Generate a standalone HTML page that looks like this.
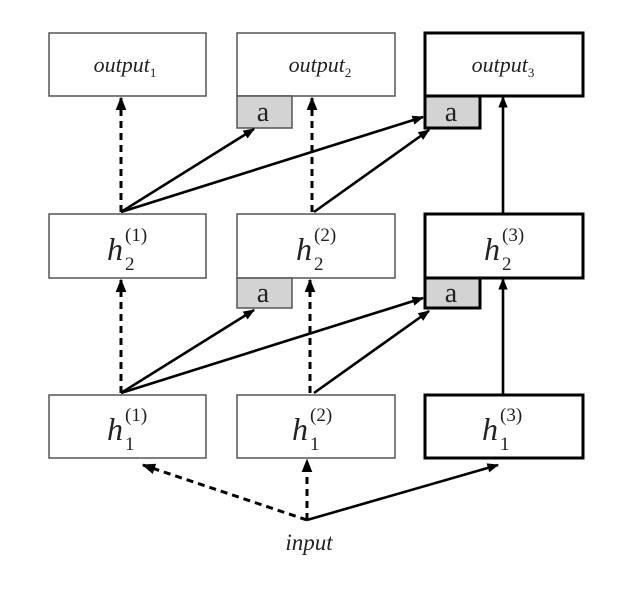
<!DOCTYPE html>
<html><head><meta charset="utf-8"><style>html,body{margin:0;padding:0;background:#fff}svg{display:block}</style></head>
<body>
<svg width="640" height="591" viewBox="0 0 640 591" xmlns="http://www.w3.org/2000/svg" font-family="Liberation Serif, serif">
<defs>
<marker id="ah" viewBox="0 0 10 10" refX="9" refY="5" markerWidth="4.5" markerHeight="4.5" orient="auto" markerUnits="strokeWidth">
<path d="M0,1 L10,5 L0,9 z" fill="#000"/></marker>
</defs>
<g fill="#fff" stroke="#555" stroke-width="1.5">
<rect x="49" y="33" width="157" height="63"/>
<rect x="237" y="33" width="158" height="63"/>
<rect x="49" y="214" width="157" height="64"/>
<rect x="237" y="214" width="158" height="64"/>
<rect x="49" y="395" width="157" height="63"/>
<rect x="237" y="395" width="158" height="63"/>
</g>
<g fill="#fff" stroke="#000" stroke-width="3">
<rect x="425" y="33" width="158" height="63"/>
<rect x="425" y="214" width="158" height="64"/>
<rect x="425" y="395" width="158" height="63"/>
</g>
<g fill="#d3d3d3" stroke="#555" stroke-width="1.5">
<rect x="237" y="96" width="55" height="32"/>
<rect x="237" y="278" width="55" height="30"/>
</g>
<g fill="#d3d3d3" stroke="#000" stroke-width="3">
<rect x="425" y="96" width="55" height="32"/>
<rect x="425" y="278" width="55" height="30"/>
</g>
<g font-size="28" text-anchor="middle" fill="#222">
<text x="263" y="121">a</text><text x="451" y="121">a</text>
<text x="263" y="302">a</text><text x="451" y="302">a</text>
</g>
<g font-size="22" font-style="italic" fill="#222" text-anchor="middle">
<text x="125" y="72">output<tspan font-size="13" font-style="normal" dy="5">1</tspan></text>
<text x="320" y="72">output<tspan font-size="13" font-style="normal" dy="5">2</tspan></text>
<text x="503" y="72">output<tspan font-size="13" font-style="normal" dy="5">3</tspan></text>
</g>
<g font-size="32" font-style="italic" fill="#222">
<text x="107" y="260">h</text><text x="125" y="270" font-size="19" font-style="normal">2</text><text x="125" y="241" font-size="19" font-style="normal">(1)</text>
<text x="296" y="260">h</text><text x="314" y="270" font-size="19" font-style="normal">2</text><text x="314" y="241" font-size="19" font-style="normal">(2)</text>
<text x="484" y="260">h</text><text x="502" y="270" font-size="19" font-style="normal">2</text><text x="502" y="241" font-size="19" font-style="normal">(3)</text>
<text x="107" y="440">h</text><text x="125" y="450" font-size="19" font-style="normal">1</text><text x="125" y="421" font-size="19" font-style="normal">(1)</text>
<text x="292" y="440">h</text><text x="310" y="450" font-size="19" font-style="normal">1</text><text x="310" y="421" font-size="19" font-style="normal">(2)</text>
<text x="482" y="440">h</text><text x="500" y="450" font-size="19" font-style="normal">1</text><text x="500" y="421" font-size="19" font-style="normal">(3)</text>
</g>
<text x="309" y="550" font-size="23" font-style="italic" text-anchor="middle" fill="#222">input</text>
<g stroke="#000" stroke-width="3" stroke-dasharray="7,5" fill="none" marker-end="url(#ah)">
<line x1="121" y1="212" x2="121" y2="98"/>
<line x1="312" y1="212" x2="312" y2="98"/>
<line x1="121" y1="393" x2="121" y2="280"/>
<line x1="310" y1="393" x2="310" y2="280"/>
<line x1="307" y1="520" x2="143" y2="465"/>
<line x1="307" y1="520" x2="307" y2="460"/>
</g>
<g stroke="#000" stroke-width="2.6" fill="none" marker-end="url(#ah)">
<line x1="121" y1="212" x2="254" y2="129"/>
<line x1="121" y1="212" x2="423" y2="117"/>
<line x1="314" y1="212" x2="429" y2="130"/>
<line x1="121" y1="393" x2="254" y2="310"/>
<line x1="121" y1="393" x2="423" y2="298"/>
<line x1="314" y1="393" x2="429" y2="311"/>
<line x1="503" y1="213" x2="503" y2="97"/>
<line x1="503" y1="394" x2="503" y2="279"/>
<line x1="307" y1="520" x2="498" y2="465"/>
</g>
</svg>
</body></html>
